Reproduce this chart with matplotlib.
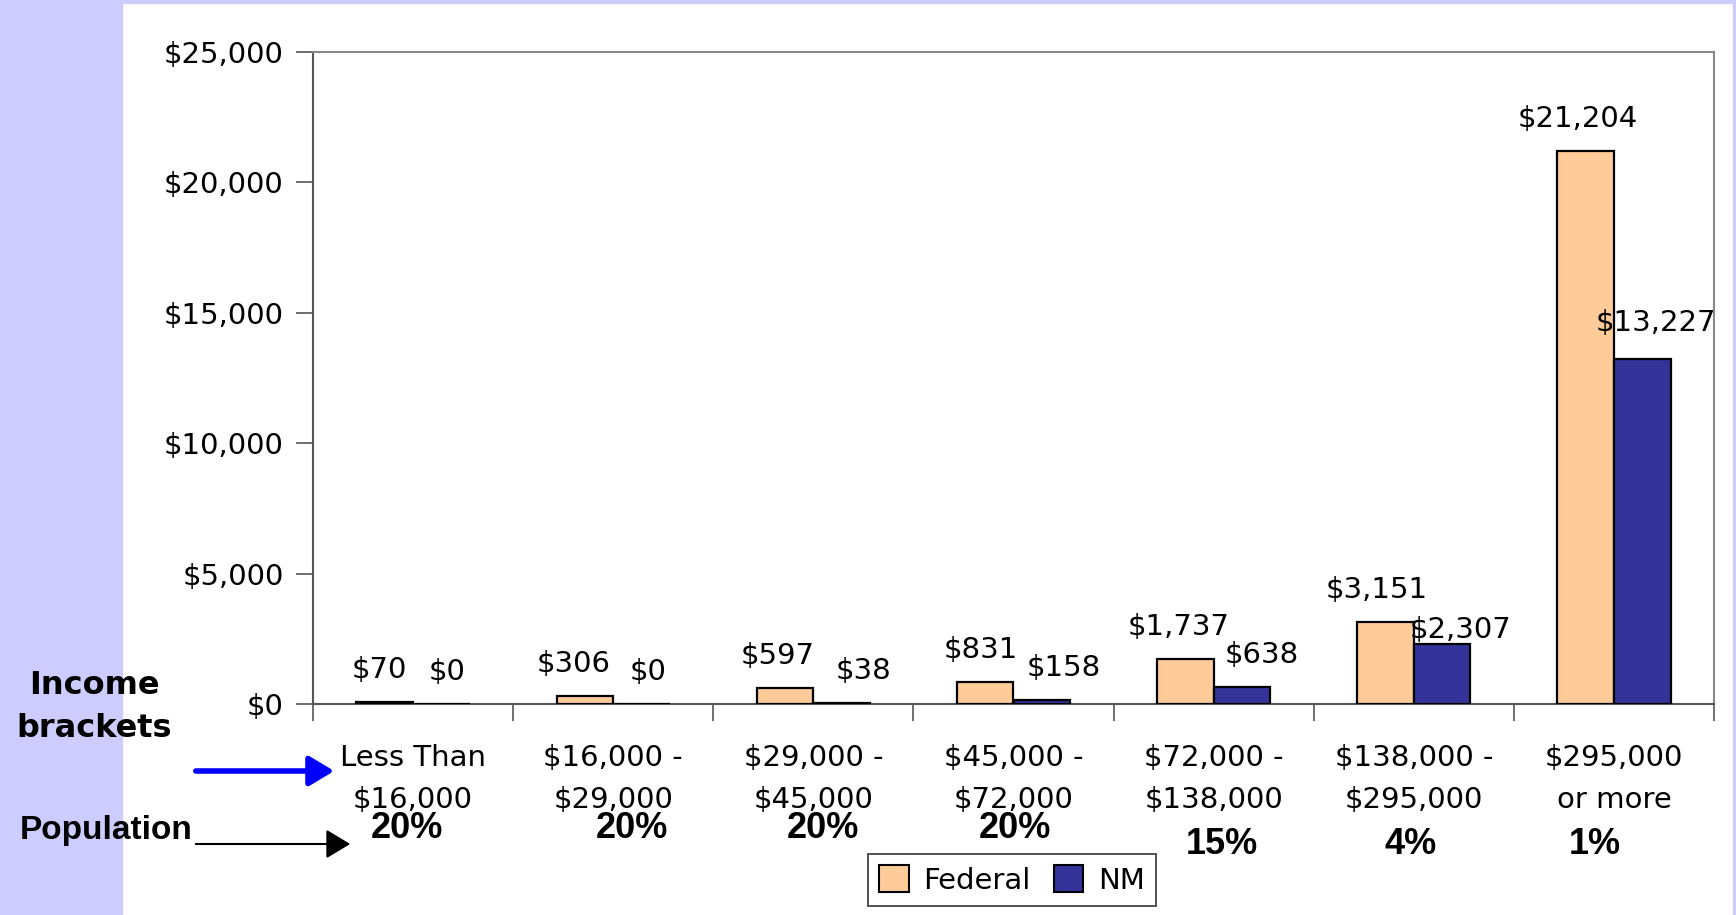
import matplotlib
matplotlib.use("Agg")
import matplotlib.pyplot as plt
from matplotlib.patches import Rectangle, Patch
import numpy as np

categories = ["Less Than\n$16,000", "$16,000 -\n$29,000", "$29,000 -\n$45,000",
              "$45,000 -\n$72,000", "$72,000 -\n$138,000", "$138,000 -\n$295,000",
              "$295,000\nor more"]
federal = [70, 306, 597, 831, 1737, 3151, 21204]
nm = [0, 0, 38, 158, 638, 2307, 13227]
population = ["20%", "20%", "20%", "20%", "15%", "4%", "1%"]
yticks = [0, 5000, 10000, 15000, 20000, 25000]

FED_C = "#FFCC99"
NM_C = "#333399"
LAV = "#CCCCFF"
FONT = "DejaVu Sans"
FS = 21

W, H = 1736, 915
fig = plt.figure(figsize=(W / 100, H / 100), dpi=100)
fig.patch.set_facecolor("white")

# lavender frame
fig.patches.append(Rectangle((0, 0), 122 / W, 1, transform=fig.transFigure, color=LAV, zorder=0))
fig.patches.append(Rectangle((0, 1 - 3 / H), 1, 3 / H, transform=fig.transFigure, color=LAV, zorder=0))
fig.patches.append(Rectangle((1 - 3 / W, 0), 3 / W, 1, transform=fig.transFigure, color=LAV, zorder=0))

ax = fig.add_axes([313 / W, 1 - 704 / H, (1714 - 313) / W, (704 - 52) / H])
x = np.arange(len(categories))
bw = 0.283
ax.bar(x - bw / 2, federal, bw, color=FED_C, edgecolor="black", linewidth=1.6, label="Federal", zorder=3)
ax.bar(x + bw / 2, nm, bw, color=NM_C, edgecolor="black", linewidth=1.6, label="NM", zorder=3)

ax.set_xlim(-0.5, len(categories) - 0.5)
ax.set_ylim(0, 25000)
ax.set_yticks(yticks)
ax.set_yticklabels([f"${v:,}" for v in yticks], fontsize=FS, family=FONT)
ax.tick_params(axis="y", direction="out", length=12, width=1.2, pad=9, color="#555555")

ax.set_xticks(x)
ax.set_xticklabels(categories, fontsize=FS, family=FONT, linespacing=1.62)
ax.tick_params(axis="x", which="major", length=0, pad=29)
ax.set_xticks(np.arange(len(categories) + 1) - 0.5, minor=True)
ax.tick_params(axis="x", which="minor", direction="out", length=12, width=1.2, color="#555555")

for s in ["top", "right"]:
    ax.spines[s].set_color("#888888")
    ax.spines[s].set_linewidth(1.5)
for s in ["left", "bottom"]:
    ax.spines[s].set_color("#555555")
    ax.spines[s].set_linewidth(1.5)

# data labels (label offsets in points, layout only)
fed_dx = [-4, -8, -5, -3, -5, -6, -6]
fed_dy = [23, 23, 23, 23, 23, 23, 23]
nm_dx = [4, 5, 16, 16, 14, 13, 10]
nm_dy = [23, 23, 23, 23, 23, 10, 26]
for i, v in enumerate(federal):
    ax.annotate(f"${v:,}", (x[i] - bw / 2, v), xytext=(fed_dx[i], fed_dy[i]),
                textcoords="offset points", ha="center", va="center", fontsize=FS, family=FONT)
for i, v in enumerate(nm):
    ax.annotate(f"${v:,}", (x[i] + bw / 2, v), xytext=(nm_dx[i], nm_dy[i]),
                textcoords="offset points", ha="center", va="center", fontsize=FS, family=FONT)

# population percentages
pop_y = [828, 828, 828, 828, 845, 845, 845]
pop_dx = [-0.03, 0.094, 0.05, 0.005, 0.04, -0.017, -0.097]
trans = matplotlib.transforms.blended_transform_factory(ax.transData, fig.transFigure)
for i, p in enumerate(population):
    ax.text(x[i] + pop_dx[i], 1 - pop_y[i] / H, p, transform=trans, ha="center", va="center",
            fontsize=26, fontweight="bold", family="Liberation Sans")

# side annotations
fig.text(94 / W, 1 - 707 / H, "Income\nbrackets", ha="center", va="center", fontsize=23,
         fontweight="bold", family=FONT, linespacing=1.5)
fig.text(20 / W, 1 - 830 / H, "Population", ha="left", va="center", fontsize=24,
         fontweight="bold", family="Liberation Sans")
fig.add_artist(matplotlib.patches.FancyArrowPatch((193 / W, 1 - 771 / H), (337 / W, 1 - 771 / H),
               transform=fig.transFigure, arrowstyle="-|>,head_length=10,head_width=6",
               color="#0000FF", linewidth=4, mutation_scale=1.5))
fig.add_artist(matplotlib.patches.FancyArrowPatch((193 / W, 1 - 844 / H), (353 / W, 1 - 844 / H),
               transform=fig.transFigure, arrowstyle="-|>,head_length=10,head_width=6",
               color="black", linewidth=1.5, mutation_scale=1.5))

handles = [Patch(facecolor=FED_C, edgecolor="black", linewidth=1.5, label="Federal"),
           Patch(facecolor=NM_C, edgecolor="black", linewidth=1.5, label="NM")]
leg = fig.legend(handles=handles, loc="center", bbox_to_anchor=(1012 / W, 1 - 880 / H), ncol=2,
                 prop={"family": FONT, "size": FS}, frameon=True, fancybox=False,
                 edgecolor="black", handlelength=1.0, handleheight=1.0, handletextpad=0.5,
                 columnspacing=0.8, borderpad=0.4)
leg.get_frame().set_linewidth(1.2)

fig.savefig("out.png", dpi=100)
